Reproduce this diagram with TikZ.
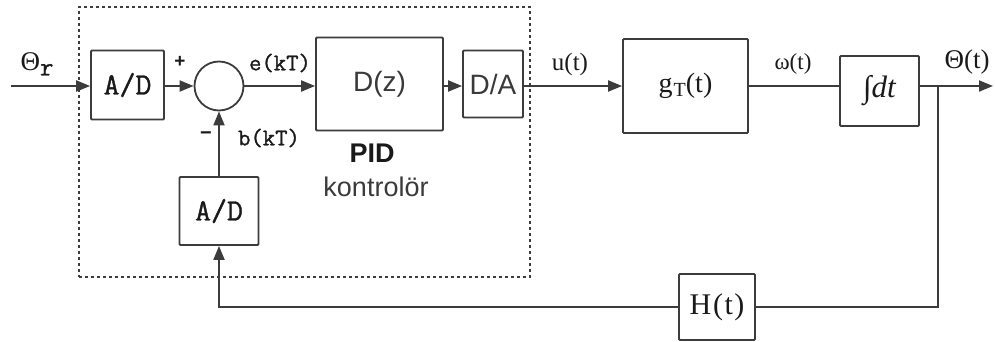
\documentclass[tikz,border=0pt]{standalone}
\usepackage{fontspec}
\setmainfont{Liberation Serif}
\setsansfont{Liberation Sans}
\newfontfamily\slabfont[FakeBold=1.2]{Latin Modern Mono}
\usetikzlibrary{arrows.meta}
\definecolor{linegray}{HTML}{3C3C3C}
\definecolor{ink}{HTML}{1A1A1A}
\definecolor{softink}{HTML}{3A3A3A}
\begin{document}
\begin{tikzpicture}[x=1pt,y=-1pt,
  wire/.style={line width=1.9pt, draw=linegray},
  sig/.style={wire, -{Triangle[length=14pt,width=11pt]}},
  blk/.style={draw=linegray, line width=1.8pt, rounded corners=1pt,
              inner sep=0pt, text=ink, fill=white},
  adc/.style={blk, font=\fontsize{31}{31}\selectfont\slabfont},
  sansblk/.style={blk, text=softink, font=\fontsize{28}{28}\selectfont\sffamily},
  serifblk/.style={blk, font=\fontsize{28}{28}\selectfont\rmfamily},
  frame/.style={draw=linegray, line width=1.7pt, dash pattern=on 3pt off 3pt,
                inner sep=0pt},
  lbl/.style={inner sep=0pt, text=ink},
]
\useasboundingbox (0,0) rectangle (995,342);

% controller frame
\node[frame, minimum width=451pt, minimum height=270pt] (ctrl) at (304.5,142) {};

% blocks
\node[adc, minimum width=73pt, minimum height=69pt] (adin) at (127.5,85) {A/D};
\node[draw=linegray, line width=1.8pt, circle, minimum size=49pt, inner sep=0pt,
      fill=white] (sum) at (219,86) {};
\node[sansblk, minimum width=127pt, minimum height=93pt] (dz) at (379.5,84) {D(z)};
\node[sansblk, minimum width=60pt, minimum height=67pt] (da) at (493,84) {D/A};
\node[serifblk, minimum width=125pt, minimum height=94pt] (gt) at (685.5,86)
      {g\kern1pt\raisebox{-4pt}{\fontsize{20}{20}\selectfont T}(t)};
\node[serifblk, minimum width=79pt, minimum height=70pt] (integ) at (879.5,91)
      {\fontsize{31}{31}\selectfont\itshape ∫dt};
\node[adc, minimum width=79pt, minimum height=68pt] (adfb) at (219,211) {A/D};
\node[serifblk, minimum width=76pt, minimum height=66pt] (hfb) at (717,307)
      {\fontsize{30}{30}\selectfont H\kern2pt(\kern1.5pt t\kern1.5pt)};

% free ends and branch points
\coordinate (in) at (11,86);
\coordinate (out) at (993,86);
\coordinate (br) at (938,86);
\coordinate (brd) at (938,307);
\coordinate (fbl) at (219,307);

% forward path
\draw[sig] (in) -- (adin.west |- in);
\draw[sig] (adin.east |- in) -- (sum.west);
\draw[sig] (sum.east) -- (dz.west |- sum.east);
\draw[sig] (dz.east |- in) -- (da.west |- in);
\draw[sig] (da.east |- in) -- (gt.west |- in);
\draw[wire] (gt.east |- in) -- (integ.west |- in);
\draw[sig] (integ.east |- out) -- (out);

% feedback path
\draw[wire] (br) -- (brd) -- (hfb.east);
\draw[sig] (hfb.west) -- (fbl) -- (adfb.south);
\draw[sig] (adfb.north) -- (sum.south);

% signal labels
\node[lbl] (thr) at (37,64)
  {\fontsize{27}{27}\selectfont Θ\raisebox{-5pt}{\slabfont\fontsize{26}{26}\selectfont r}};
\node[lbl, font=\fontsize{19}{19}\selectfont\sffamily\bfseries] (plus) at (180,62) {+};
\node[lbl, font=\fontsize{20}{20}\selectfont\sffamily\bfseries] (minus) at (206,136) {−};
\node[lbl, font=\fontsize{24}{24}\selectfont\slabfont] (ekt) at (280,63) {e(kT)};
\node[lbl, font=\fontsize{24}{24}\selectfont\slabfont] (bkt) at (269,138) {b(kT)};
\node[lbl, font=\fontsize{27}{27}\selectfont\sffamily\bfseries] (pid) at (372,153) {PID};
\node[lbl, text=softink, font=\fontsize{27}{27}\selectfont\sffamily] (kon) at (376,187) {kontrolör};
\node[lbl, font=\fontsize{25}{25}\selectfont\rmfamily] (ut) at (570,64) {u(t)};
\node[lbl, font=\fontsize{23}{23}\selectfont\rmfamily] (wt) at (793,64) {ω(t)};
\node[lbl, font=\fontsize{27}{27}\selectfont\rmfamily] (tht) at (967,62) {Θ(t)};
\end{tikzpicture}
\end{document}
